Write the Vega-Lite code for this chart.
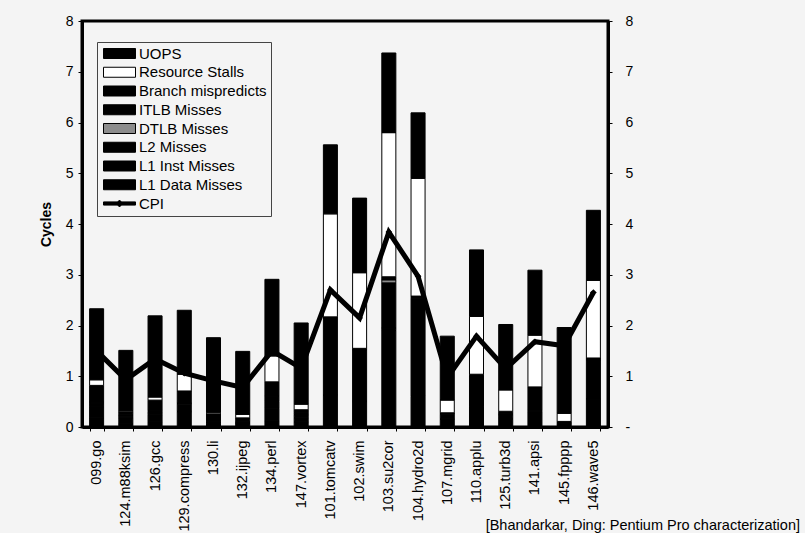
{
  "$schema": "https://vega.github.io/schema/vega-lite/v6.json",
  "width": 526,
  "height": 406,
  "autosize": {"type": "none"},
  "padding": {"left": 82, "top": 21, "right": 197, "bottom": 106},
  "background": "#f4f4f4",
  "title": {
    "text": "[Bhandarkar, Ding: Pentium Pro characterization]",
    "orient": "bottom",
    "anchor": "end",
    "frame": "group",
    "dx": 192,
    "dy": -16,
    "font": "Liberation Sans",
    "fontSize": 14.5,
    "fontWeight": "normal",
    "color": "#000"
  },
  "datasets": {
    "parts": [
      {"bench": "099.go", "component": "L1 Data Misses", "cycles": 0.18},
      {"bench": "099.go", "component": "L1 Inst Misses", "cycles": 0.22},
      {"bench": "099.go", "component": "L2 Misses", "cycles": 0.06},
      {"bench": "099.go", "component": "DTLB Misses", "cycles": 0.01},
      {"bench": "099.go", "component": "ITLB Misses", "cycles": 0.02},
      {"bench": "099.go", "component": "Branch mispredicts", "cycles": 0.33},
      {"bench": "099.go", "component": "Resource Stalls", "cycles": 0.11},
      {"bench": "099.go", "component": "UOPS", "cycles": 1.40},

      {"bench": "124.m88ksim", "component": "L1 Data Misses", "cycles": 0.06},
      {"bench": "124.m88ksim", "component": "L1 Inst Misses", "cycles": 0.12},
      {"bench": "124.m88ksim", "component": "L2 Misses", "cycles": 0.03},
      {"bench": "124.m88ksim", "component": "DTLB Misses", "cycles": 0.01},
      {"bench": "124.m88ksim", "component": "ITLB Misses", "cycles": 0.02},
      {"bench": "124.m88ksim", "component": "Branch mispredicts", "cycles": 0.06},
      {"bench": "124.m88ksim", "component": "Resource Stalls", "cycles": 0.02},
      {"bench": "124.m88ksim", "component": "UOPS", "cycles": 1.19},

      {"bench": "126.gcc", "component": "L1 Data Misses", "cycles": 0.10},
      {"bench": "126.gcc", "component": "L1 Inst Misses", "cycles": 0.14},
      {"bench": "126.gcc", "component": "L2 Misses", "cycles": 0.06},
      {"bench": "126.gcc", "component": "DTLB Misses", "cycles": 0.01},
      {"bench": "126.gcc", "component": "ITLB Misses", "cycles": 0.02},
      {"bench": "126.gcc", "component": "Branch mispredicts", "cycles": 0.20},
      {"bench": "126.gcc", "component": "Resource Stalls", "cycles": 0.06},
      {"bench": "126.gcc", "component": "UOPS", "cycles": 1.60},

      {"bench": "129.compress", "component": "L1 Data Misses", "cycles": 0.30},
      {"bench": "129.compress", "component": "L1 Inst Misses", "cycles": 0.01},
      {"bench": "129.compress", "component": "L2 Misses", "cycles": 0.14},
      {"bench": "129.compress", "component": "DTLB Misses", "cycles": 0.01},
      {"bench": "129.compress", "component": "ITLB Misses", "cycles": 0.01},
      {"bench": "129.compress", "component": "Branch mispredicts", "cycles": 0.24},
      {"bench": "129.compress", "component": "Resource Stalls", "cycles": 0.33},
      {"bench": "129.compress", "component": "UOPS", "cycles": 1.26},

      {"bench": "130.li", "component": "L1 Data Misses", "cycles": 0.07},
      {"bench": "130.li", "component": "L1 Inst Misses", "cycles": 0.03},
      {"bench": "130.li", "component": "L2 Misses", "cycles": 0.01},
      {"bench": "130.li", "component": "DTLB Misses", "cycles": 0.01},
      {"bench": "130.li", "component": "ITLB Misses", "cycles": 0.01},
      {"bench": "130.li", "component": "Branch mispredicts", "cycles": 0.13},
      {"bench": "130.li", "component": "Resource Stalls", "cycles": 0.03},
      {"bench": "130.li", "component": "UOPS", "cycles": 1.47},

      {"bench": "132.ijpeg", "component": "L1 Data Misses", "cycles": 0.06},
      {"bench": "132.ijpeg", "component": "L1 Inst Misses", "cycles": 0.01},
      {"bench": "132.ijpeg", "component": "L2 Misses", "cycles": 0.01},
      {"bench": "132.ijpeg", "component": "DTLB Misses", "cycles": 0.01},
      {"bench": "132.ijpeg", "component": "ITLB Misses", "cycles": 0.01},
      {"bench": "132.ijpeg", "component": "Branch mispredicts", "cycles": 0.08},
      {"bench": "132.ijpeg", "component": "Resource Stalls", "cycles": 0.07},
      {"bench": "132.ijpeg", "component": "UOPS", "cycles": 1.24},

      {"bench": "134.perl", "component": "L1 Data Misses", "cycles": 0.12},
      {"bench": "134.perl", "component": "L1 Inst Misses", "cycles": 0.25},
      {"bench": "134.perl", "component": "L2 Misses", "cycles": 0.13},
      {"bench": "134.perl", "component": "DTLB Misses", "cycles": 0.01},
      {"bench": "134.perl", "component": "ITLB Misses", "cycles": 0.10},
      {"bench": "134.perl", "component": "Branch mispredicts", "cycles": 0.28},
      {"bench": "134.perl", "component": "Resource Stalls", "cycles": 0.51},
      {"bench": "134.perl", "component": "UOPS", "cycles": 1.51},

      {"bench": "147.vortex", "component": "L1 Data Misses", "cycles": 0.10},
      {"bench": "147.vortex", "component": "L1 Inst Misses", "cycles": 0.08},
      {"bench": "147.vortex", "component": "L2 Misses", "cycles": 0.06},
      {"bench": "147.vortex", "component": "DTLB Misses", "cycles": 0.01},
      {"bench": "147.vortex", "component": "ITLB Misses", "cycles": 0.04},
      {"bench": "147.vortex", "component": "Branch mispredicts", "cycles": 0.05},
      {"bench": "147.vortex", "component": "Resource Stalls", "cycles": 0.11},
      {"bench": "147.vortex", "component": "UOPS", "cycles": 1.60},

      {"bench": "101.tomcatv", "component": "L1 Data Misses", "cycles": 0.62},
      {"bench": "101.tomcatv", "component": "L1 Inst Misses", "cycles": 0.01},
      {"bench": "101.tomcatv", "component": "L2 Misses", "cycles": 1.50},
      {"bench": "101.tomcatv", "component": "DTLB Misses", "cycles": 0.01},
      {"bench": "101.tomcatv", "component": "ITLB Misses", "cycles": 0.01},
      {"bench": "101.tomcatv", "component": "Branch mispredicts", "cycles": 0.02},
      {"bench": "101.tomcatv", "component": "Resource Stalls", "cycles": 2.03},
      {"bench": "101.tomcatv", "component": "UOPS", "cycles": 1.36},

      {"bench": "102.swim", "component": "L1 Data Misses", "cycles": 0.50},
      {"bench": "102.swim", "component": "L1 Inst Misses", "cycles": 0.01},
      {"bench": "102.swim", "component": "L2 Misses", "cycles": 1.01},
      {"bench": "102.swim", "component": "DTLB Misses", "cycles": 0.01},
      {"bench": "102.swim", "component": "ITLB Misses", "cycles": 0.01},
      {"bench": "102.swim", "component": "Branch mispredicts", "cycles": 0.01},
      {"bench": "102.swim", "component": "Resource Stalls", "cycles": 1.49},
      {"bench": "102.swim", "component": "UOPS", "cycles": 1.47},

      {"bench": "103.su2cor", "component": "L1 Data Misses", "cycles": 1.90},
      {"bench": "103.su2cor", "component": "L1 Inst Misses", "cycles": 0.05},
      {"bench": "103.su2cor", "component": "L2 Misses", "cycles": 0.89},
      {"bench": "103.su2cor", "component": "DTLB Misses", "cycles": 0.06},
      {"bench": "103.su2cor", "component": "ITLB Misses", "cycles": 0.01},
      {"bench": "103.su2cor", "component": "Branch mispredicts", "cycles": 0.05},
      {"bench": "103.su2cor", "component": "Resource Stalls", "cycles": 2.84},
      {"bench": "103.su2cor", "component": "UOPS", "cycles": 1.57},

      {"bench": "104.hydro2d", "component": "L1 Data Misses", "cycles": 0.60},
      {"bench": "104.hydro2d", "component": "L1 Inst Misses", "cycles": 0.01},
      {"bench": "104.hydro2d", "component": "L2 Misses", "cycles": 1.93},
      {"bench": "104.hydro2d", "component": "DTLB Misses", "cycles": 0.01},
      {"bench": "104.hydro2d", "component": "ITLB Misses", "cycles": 0.01},
      {"bench": "104.hydro2d", "component": "Branch mispredicts", "cycles": 0.02},
      {"bench": "104.hydro2d", "component": "Resource Stalls", "cycles": 2.32},
      {"bench": "104.hydro2d", "component": "UOPS", "cycles": 1.29},

      {"bench": "107.mgrid", "component": "L1 Data Misses", "cycles": 0.15},
      {"bench": "107.mgrid", "component": "L1 Inst Misses", "cycles": 0.01},
      {"bench": "107.mgrid", "component": "L2 Misses", "cycles": 0.09},
      {"bench": "107.mgrid", "component": "DTLB Misses", "cycles": 0.01},
      {"bench": "107.mgrid", "component": "ITLB Misses", "cycles": 0.01},
      {"bench": "107.mgrid", "component": "Branch mispredicts", "cycles": 0.01},
      {"bench": "107.mgrid", "component": "Resource Stalls", "cycles": 0.25},
      {"bench": "107.mgrid", "component": "UOPS", "cycles": 1.26},

      {"bench": "110.applu", "component": "L1 Data Misses", "cycles": 0.40},
      {"bench": "110.applu", "component": "L1 Inst Misses", "cycles": 0.01},
      {"bench": "110.applu", "component": "L2 Misses", "cycles": 0.60},
      {"bench": "110.applu", "component": "DTLB Misses", "cycles": 0.01},
      {"bench": "110.applu", "component": "ITLB Misses", "cycles": 0.01},
      {"bench": "110.applu", "component": "Branch mispredicts", "cycles": 0.01},
      {"bench": "110.applu", "component": "Resource Stalls", "cycles": 1.14},
      {"bench": "110.applu", "component": "UOPS", "cycles": 1.31},

      {"bench": "125.turb3d", "component": "L1 Data Misses", "cycles": 0.15},
      {"bench": "125.turb3d", "component": "L1 Inst Misses", "cycles": 0.02},
      {"bench": "125.turb3d", "component": "L2 Misses", "cycles": 0.07},
      {"bench": "125.turb3d", "component": "DTLB Misses", "cycles": 0.01},
      {"bench": "125.turb3d", "component": "ITLB Misses", "cycles": 0.01},
      {"bench": "125.turb3d", "component": "Branch mispredicts", "cycles": 0.05},
      {"bench": "125.turb3d", "component": "Resource Stalls", "cycles": 0.42},
      {"bench": "125.turb3d", "component": "UOPS", "cycles": 1.29},

      {"bench": "141.apsi", "component": "L1 Data Misses", "cycles": 0.30},
      {"bench": "141.apsi", "component": "L1 Inst Misses", "cycles": 0.03},
      {"bench": "141.apsi", "component": "L2 Misses", "cycles": 0.41},
      {"bench": "141.apsi", "component": "DTLB Misses", "cycles": 0.01},
      {"bench": "141.apsi", "component": "ITLB Misses", "cycles": 0.01},
      {"bench": "141.apsi", "component": "Branch mispredicts", "cycles": 0.03},
      {"bench": "141.apsi", "component": "Resource Stalls", "cycles": 1.02},
      {"bench": "141.apsi", "component": "UOPS", "cycles": 1.28},

      {"bench": "145.fpppp", "component": "L1 Data Misses", "cycles": 0.03},
      {"bench": "145.fpppp", "component": "L1 Inst Misses", "cycles": 0.03},
      {"bench": "145.fpppp", "component": "L2 Misses", "cycles": 0.01},
      {"bench": "145.fpppp", "component": "DTLB Misses", "cycles": 0.01},
      {"bench": "145.fpppp", "component": "ITLB Misses", "cycles": 0.01},
      {"bench": "145.fpppp", "component": "Branch mispredicts", "cycles": 0.02},
      {"bench": "145.fpppp", "component": "Resource Stalls", "cycles": 0.16},
      {"bench": "145.fpppp", "component": "UOPS", "cycles": 1.69},

      {"bench": "146.wave5", "component": "L1 Data Misses", "cycles": 0.55},
      {"bench": "146.wave5", "component": "L1 Inst Misses", "cycles": 0.01},
      {"bench": "146.wave5", "component": "L2 Misses", "cycles": 0.76},
      {"bench": "146.wave5", "component": "DTLB Misses", "cycles": 0.01},
      {"bench": "146.wave5", "component": "ITLB Misses", "cycles": 0.01},
      {"bench": "146.wave5", "component": "Branch mispredicts", "cycles": 0.02},
      {"bench": "146.wave5", "component": "Resource Stalls", "cycles": 1.53},
      {"bench": "146.wave5", "component": "UOPS", "cycles": 1.38}
    ],
    "cpi": [
      {"bench": "099.go", "cpi": 1.50},
      {"bench": "124.m88ksim", "cpi": 0.93},
      {"bench": "126.gcc", "cpi": 1.34},
      {"bench": "129.compress", "cpi": 1.06},
      {"bench": "130.li", "cpi": 0.91},
      {"bench": "132.ijpeg", "cpi": 0.78},
      {"bench": "134.perl", "cpi": 1.50},
      {"bench": "147.vortex", "cpi": 1.16},
      {"bench": "101.tomcatv", "cpi": 2.70},
      {"bench": "102.swim", "cpi": 2.15},
      {"bench": "103.su2cor", "cpi": 3.84},
      {"bench": "104.hydro2d", "cpi": 2.97},
      {"bench": "107.mgrid", "cpi": 0.97},
      {"bench": "110.applu", "cpi": 1.79},
      {"bench": "125.turb3d", "cpi": 1.15},
      {"bench": "141.apsi", "cpi": 1.68},
      {"bench": "145.fpppp", "cpi": 1.60},
      {"bench": "146.wave5", "cpi": 2.65}
    ]
  },
  "encoding": {
    "x": {
      "field": "bench",
      "type": "nominal",
      "sort": null,
      "scale": {"paddingInner": 0.52, "paddingOuter": 0.26},
      "axis": {
        "title": null,
        "labelAngle": -90,
        "labelFontSize": 14.5,
        "labelPadding": 9,
        "tickBand": "extent",
        "tickSize": 4,
        "domainWidth": 3
      }
    }
  },
  "layer": [
    {
      "data": {"name": "parts"},
      "transform": [
        {"window": [{"op": "row_number", "as": "seq"}], "groupby": ["bench"]}
      ],
      "mark": {"type": "bar", "stroke": "#000", "strokeWidth": 1},
      "encoding": {
        "y": {
          "field": "cycles",
          "type": "quantitative",
          "stack": "zero",
          "scale": {"domain": [0, 8], "nice": false},
          "axis": {
            "title": "Cycles",
            "titleFontSize": 14,
            "titleFontWeight": "bold",
            "titlePadding": 12,
            "values": [0, 1, 2, 3, 4, 5, 6, 7, 8],
            "labelFontSize": 14,
            "labelPadding": 5,
            "tickSize": 4,
            "domainWidth": 3
          }
        },
        "order": {"field": "seq", "type": "quantitative", "sort": "ascending"},
        "color": {
          "field": "component",
          "type": "nominal",
          "scale": {
            "domain": ["UOPS", "Resource Stalls", "Branch mispredicts", "ITLB Misses", "DTLB Misses", "L2 Misses", "L1 Inst Misses", "L1 Data Misses", "CPI"],
            "range": ["#000000", "#ffffff", "#000000", "#000000", "#8c8c8c", "#000000", "#000000", "#000000", "#000000"]
          },
          "legend": {
            "title": null,
            "orient": "none",
            "legendX": 15,
            "legendY": 21,
            "padding": 4,
            "strokeColor": "#444444",
            "fillColor": "#f4f4f4",
            "labelFont": "Liberation Sans",
            "labelFontSize": 15,
            "labelColor": "#000",
            "labelOffset": 23,
            "rowPadding": 2.75,
            "symbolSize": 100,
            "symbolStrokeColor": "#000",
            "symbolStrokeWidth": 1,
            "encode": {
              "symbols": {
                "update": {
                  "shape": {"signal": "datum.value === 'CPI' ? 'M-1,-0.32H5.4V0.32H-1Z M2.2,-0.7L2.8,0L2.2,0.7L1.6,0Z' : 'M-1,-1H5.4V1H-1Z'"},
                  "stroke": {"value": "#000"},
                  "strokeWidth": {"value": 1},
                  "opacity": {"value": 1}
                }
              }
            }
          }
        }
      }
    },
    {
      "data": {"name": "cpi"},
      "mark": {
        "type": "line",
        "color": "#000",
        "strokeWidth": 5,
        "point": {"filled": true, "shape": "diamond", "size": 45, "color": "#000"}
      },
      "encoding": {
        "y": {
          "field": "cpi",
          "type": "quantitative",
          "scale": {"domain": [0, 8], "nice": false},
          "axis": {
            "orient": "right",
            "title": null,
            "values": [0, 1, 2, 3, 4, 5, 6, 7, 8],
            "labelExpr": "datum.value === 0 ? '-' : datum.label",
            "labelFontSize": 14,
            "labelPadding": 13,
            "tickSize": 4,
            "domainWidth": 3
          }
        }
      }
    }
  ],
  "resolve": {"axis": {"y": "independent"}},
  "config": {
    "view": {"stroke": "#000", "strokeWidth": 3},
    "axis": {
      "labelFont": "Liberation Sans",
      "titleFont": "Liberation Sans",
      "labelColor": "#000",
      "titleColor": "#000",
      "tickColor": "#000",
      "domainColor": "#000",
      "grid": false
    }
  }
}
